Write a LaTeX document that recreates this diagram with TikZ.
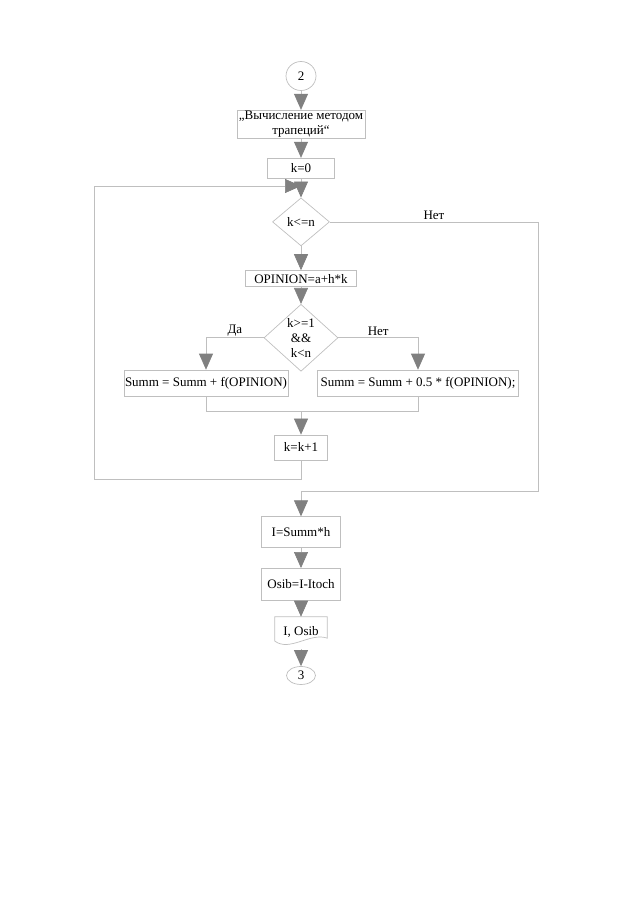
\documentclass[tikz,border=0pt]{standalone}
\usepackage{fontspec}
\setmainfont{Liberation Serif}
\usetikzlibrary{shapes.geometric,arrows.meta,positioning}

\begin{document}
\begin{tikzpicture}[
    x=1pt, y=-1pt,
    node distance=19pt,
    every node/.style={font=\fontsize{13}{15}\selectfont, text=black},
    proc/.style={rectangle, draw=black!25, line width=0.7pt, align=center, inner sep=1pt},
    decision/.style={diamond, draw=black!25, line width=0.7pt, align=center, inner sep=0pt},
    conn/.style={ellipse, draw=black!25, line width=0.7pt, inner sep=0pt},
    line/.style={draw=black!25, line width=0.7pt},
    arr/.style={line, -{Triangle[length=16pt,width=14pt,color=black!50]}},
    lbl/.style={inner sep=1.5pt}
]
\useasboundingbox (0,0) rectangle (641,908);
\node[conn, minimum width=30pt, minimum height=29pt] (c2) at (301,76) {2};
\node[proc, below=19pt of c2, minimum width=128pt, minimum height=28pt] (trap) {„Вычисление методом\\трапеций“};
\node[proc, below=19pt of trap, minimum width=67pt, minimum height=20pt] (k0) {k=0};
\node[decision, below=19pt of k0, minimum width=57pt, minimum height=48pt] (d1) {k<=n};
\node[proc, below=24pt of d1, minimum width=111pt, minimum height=16pt] (opin) {OPINION=a+h*k};
\node[decision, below=17pt of opin, minimum width=74pt, minimum height=67pt] (d2) {k>=1\\\&\&\\k<n};
\node[proc, minimum width=164pt, minimum height=26pt] (summ1) at (206,383) {Summ = Summ + f(OPINION)};
\node[proc, minimum width=201pt, minimum height=26pt] (summ2) at (418,383) {Summ = Summ + 0.5 * f(OPINION);};
\node[proc, below=63pt of d2, minimum width=53pt, minimum height=25pt] (kinc) {k=k+1};
\node[proc, below=56pt of kinc, minimum width=79pt, minimum height=31pt] (isum) {I=Summ*h};
\node[proc, below=20pt of isum, minimum width=79pt, minimum height=32pt] (osib) {Osib=I-Itoch};
\node[minimum width=52pt, minimum height=30pt, inner sep=0pt, yshift=2pt, below=18pt of osib] (outp) {I, Osib};
\draw[line] ([yshift=6pt]outp.south west) -- (outp.north west) -- (outp.north east)
    -- ([yshift=9pt]outp.south east) .. controls +(-17pt,6pt) and +(15pt,-11pt) .. ([yshift=6pt]outp.south west);
\node[conn, below=19pt of outp, minimum width=29pt, minimum height=18pt] (c3) {3};
\coordinate (loopL) at (94,186);
\coordinate (exitR) at (538,491);
% main column
\draw[arr] (c2) -- (trap);
\draw[arr] (trap) -- (k0);
\draw[arr] (k0) -- (d1);
\draw[arr] (d1) -- (opin);
\draw[arr] (opin) -- (d2);
% branches
\draw[arr] (d2.west) -| node[lbl, above, pos=0.25]{Да} (summ1.north);
\draw[arr] (d2.east) -| node[lbl, above, pos=0.25]{Нет} (summ2.north);
\draw[line] (summ1.south) -- ++(0,15) coordinate (merge) -| (summ2.south);
\draw[arr] (merge -| kinc.north) -- (kinc.north);
% loop back
\draw[arr] (kinc.south) -- ++(0,19) -| (loopL) -- (loopL -| d1.north);
% exit
\draw[arr] (d1.east) -- node[lbl, above]{Нет} (d1.east -| exitR) -- (exitR) -- (exitR -| isum.north) -- (isum.north);
\draw[arr] (isum) -- (osib);
\draw[arr] (osib) -- (outp);
\draw[arr] ([yshift=-2pt]outp.south) -- (c3);
\end{tikzpicture}
\end{document}
